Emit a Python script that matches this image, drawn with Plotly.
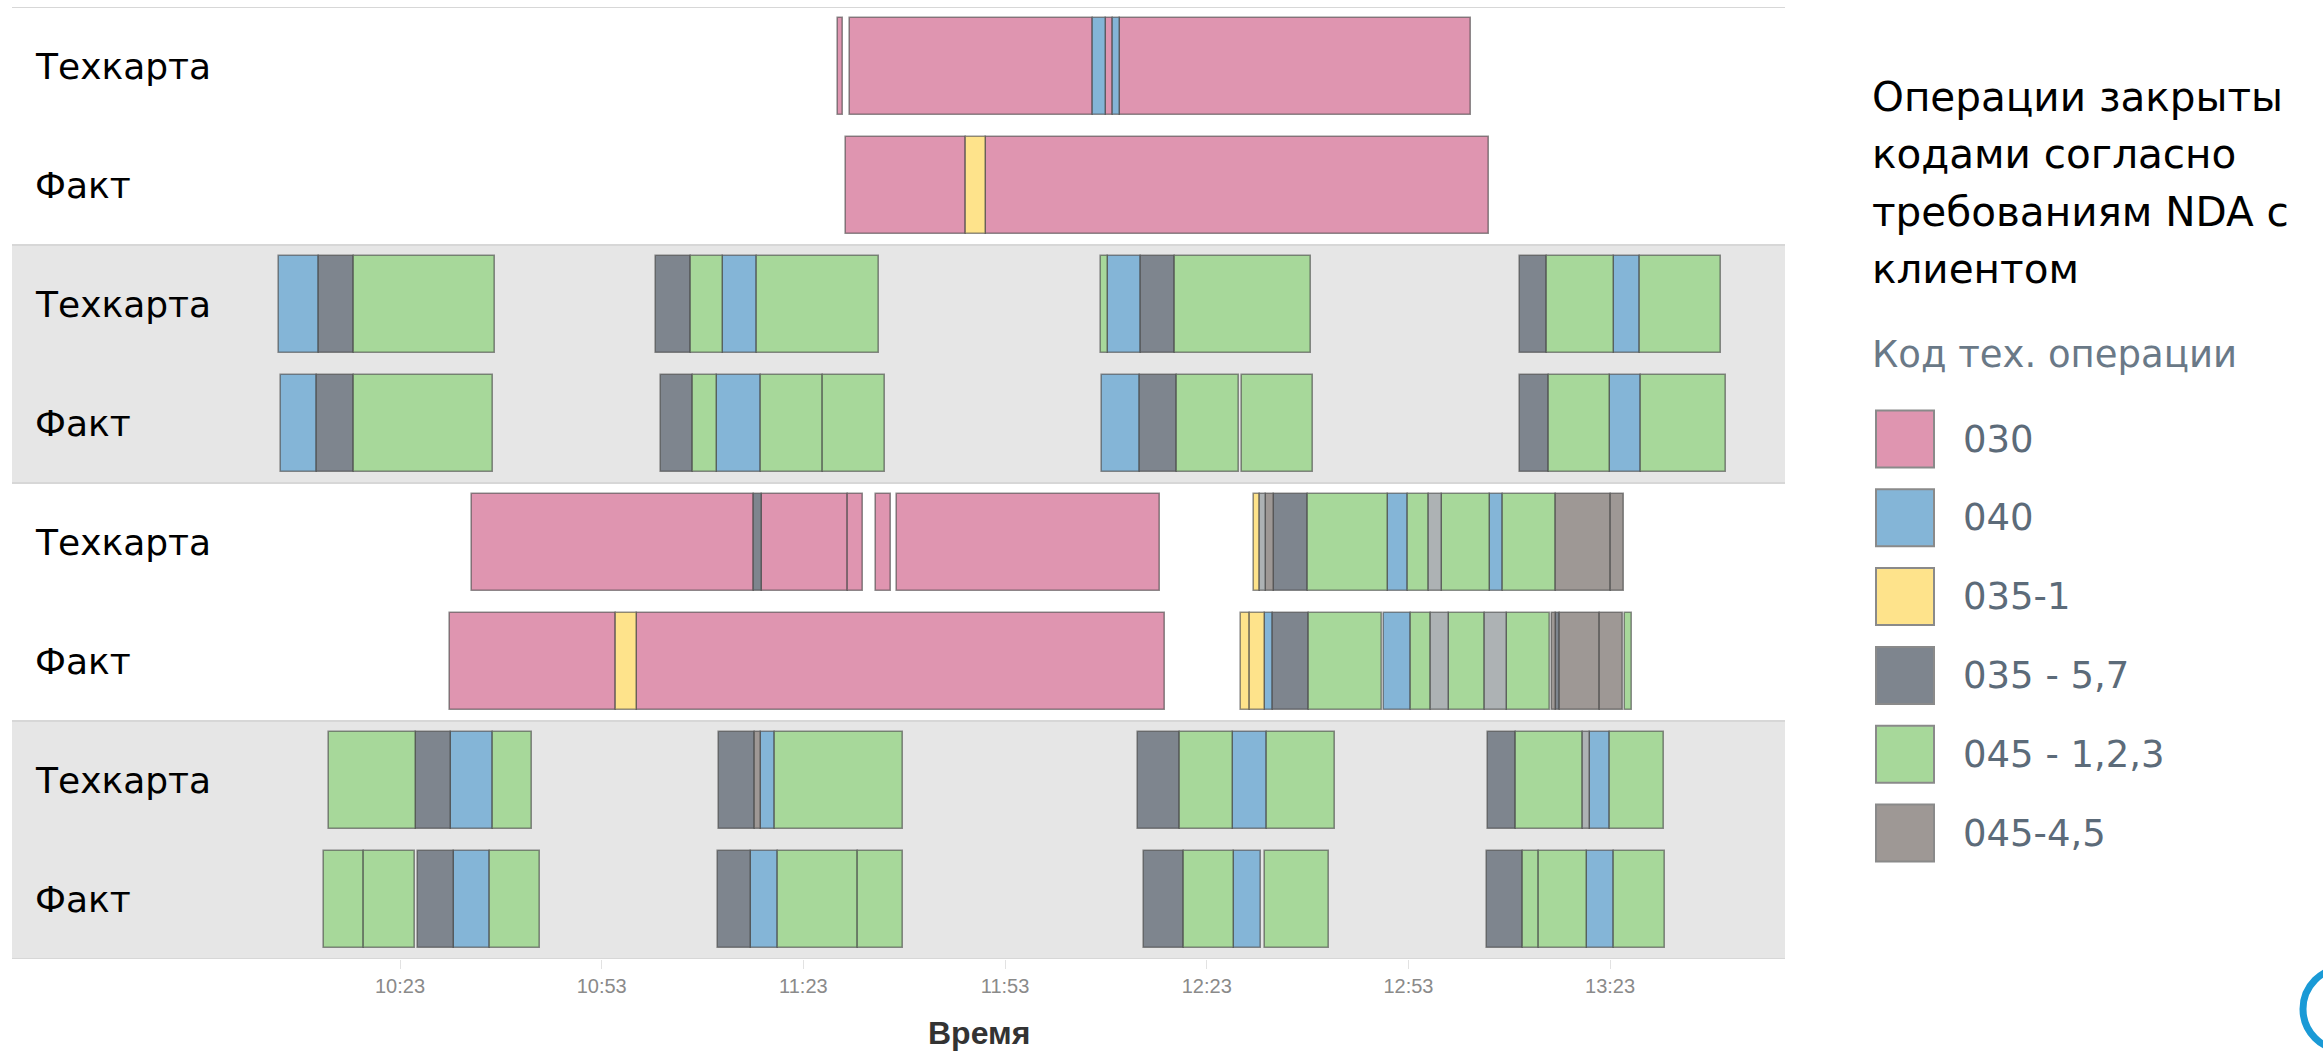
import plotly.graph_objects as go
from datetime import datetime

DAY = "2023-01-01"

ROW_LABELS = ["Техкарта", "Факт", "Техкарта", "Факт",
              "Техкарта", "Факт", "Техкарта", "Факт"]

CODES = ["030", "040", "035-1", "035 - 5,7", "045 - 1,2,3", "045-4,5"]
EXTRA_CODE = "прочее"
CODE_COLORS = {
    "030": "#df95b0",
    "040": "#84b5d7",
    "035-1": "#fee38b",
    "035 - 5,7": "#7e858e",
    "045 - 1,2,3": "#a7d89a",
    "045-4,5": "#9e9895",
    "прочее": "#adb2b4",
}

TICK_LABELS = ["10:23", "10:53", "11:23", "11:53", "12:23", "12:53", "13:23"]
X_RANGE = ["09:25:17", "13:49:01"]

LEGEND_TITLE = ["Операции закрыты", "кодами согласно", "требованиям NDA с", "клиентом"]
LEGEND_SUBTITLE = "Код тех. операции"

# (code, start, end) for each row, top to bottom
ROW_1 = [
    ("030", "11:28:07", "11:28:56"),
    ("030", "11:29:58", "12:06:02"),
    ("040", "12:06:02", "12:08:05"),
    ("030", "12:08:05", "12:09:03"),
    ("040", "12:09:03", "12:10:09"),
    ("030", "12:10:09", "13:02:15"),
]
ROW_2 = [
    ("030", "11:29:21", "11:47:15"),
    ("035-1", "11:47:15", "11:50:12"),
    ("030", "11:50:12", "13:04:59"),
]
ROW_3 = [
    ("040", "10:04:56", "10:10:56"),
    ("035 - 5,7", "10:10:56", "10:16:08"),
    ("045 - 1,2,3", "10:16:08", "10:37:06"),
    ("035 - 5,7", "11:01:08", "11:06:15"),
    ("045 - 1,2,3", "11:06:15", "11:11:03"),
    ("040", "11:11:03", "11:16:10"),
    ("045 - 1,2,3", "11:16:10", "11:34:16"),
    ("045 - 1,2,3", "12:07:20", "12:08:18"),
    ("040", "12:08:18", "12:13:09"),
    ("035 - 5,7", "12:13:09", "12:18:16"),
    ("045 - 1,2,3", "12:18:16", "12:38:33"),
    ("035 - 5,7", "13:09:32", "13:13:37"),
    ("045 - 1,2,3", "13:13:37", "13:23:39"),
    ("040", "13:23:39", "13:27:31"),
    ("045 - 1,2,3", "13:27:31", "13:39:34"),
]
ROW_4 = [
    ("040", "10:05:20", "10:10:36"),
    ("035 - 5,7", "10:10:36", "10:16:11"),
    ("045 - 1,2,3", "10:16:11", "10:36:46"),
    ("035 - 5,7", "11:01:49", "11:06:36"),
    ("045 - 1,2,3", "11:06:36", "11:10:07"),
    ("040", "11:10:07", "11:16:38"),
    ("045 - 1,2,3", "11:16:38", "11:25:52"),
    ("045 - 1,2,3", "11:25:52", "11:35:10"),
    ("040", "12:07:29", "12:13:07"),
    ("035 - 5,7", "12:13:07", "12:18:37"),
    ("045 - 1,2,3", "12:18:37", "12:27:50"),
    ("045 - 1,2,3", "12:28:15", "12:38:46"),
    ("035 - 5,7", "13:09:32", "13:13:56"),
    ("045 - 1,2,3", "13:13:56", "13:22:55"),
    ("040", "13:22:55", "13:27:36"),
    ("045 - 1,2,3", "13:27:36", "13:40:15"),
]
ROW_5 = [
    ("030", "10:33:41", "11:15:41"),
    ("035 - 5,7", "11:15:41", "11:16:51"),
    ("030", "11:16:51", "11:29:41"),
    ("030", "11:29:41", "11:31:52"),
    ("030", "11:33:47", "11:35:59"),
    ("030", "11:36:52", "12:15:59"),
    ("035-1", "12:30:02", "12:30:56"),
    ("прочее", "12:30:56", "12:31:49"),
    ("045-4,5", "12:31:49", "12:33:03"),
    ("035 - 5,7", "12:33:03", "12:38:07"),
    ("045 - 1,2,3", "12:38:07", "12:49:55"),
    ("040", "12:49:55", "12:52:59"),
    ("045 - 1,2,3", "12:52:59", "12:56:04"),
    ("прочее", "12:56:04", "12:57:57"),
    ("045 - 1,2,3", "12:57:57", "13:05:08"),
    ("040", "13:05:08", "13:07:02"),
    ("045 - 1,2,3", "13:07:02", "13:14:57"),
    ("045-4,5", "13:14:57", "13:23:06"),
    ("045-4,5", "13:23:06", "13:25:08"),
]
ROW_6 = [
    ("030", "10:30:24", "10:55:11"),
    ("035-1", "10:55:11", "10:58:16"),
    ("030", "10:58:16", "12:16:50"),
    ("035-1", "12:28:03", "12:29:29"),
    ("035-1", "12:29:29", "12:31:43"),
    ("040", "12:31:43", "12:32:49"),
    ("035 - 5,7", "12:32:49", "12:38:15"),
    ("045 - 1,2,3", "12:38:15", "12:49:02"),
    ("040", "12:49:22", "12:53:21"),
    ("045 - 1,2,3", "12:53:21", "12:56:19"),
    ("прочее", "12:56:19", "12:59:05"),
    ("045 - 1,2,3", "12:59:05", "13:04:24"),
    ("прочее", "13:04:24", "13:07:37"),
    ("045 - 1,2,3", "13:07:37", "13:14:04"),
    ("045-4,5", "13:14:19", "13:15:00"),
    ("035 - 5,7", "13:15:00", "13:15:33"),
    ("045-4,5", "13:15:33", "13:21:30"),
    ("045-4,5", "13:21:30", "13:24:53"),
    ("045 - 1,2,3", "13:25:13", "13:26:13"),
]
ROW_7 = [
    ("045 - 1,2,3", "10:12:26", "10:25:25"),
    ("035 - 5,7", "10:25:25", "10:30:36"),
    ("040", "10:30:36", "10:36:46"),
    ("045 - 1,2,3", "10:36:46", "10:42:34"),
    ("035 - 5,7", "11:10:30", "11:15:49"),
    ("045-4,5", "11:15:49", "11:16:43"),
    ("040", "11:16:43", "11:18:46"),
    ("045 - 1,2,3", "11:18:46", "11:37:49"),
    ("035 - 5,7", "12:12:48", "12:18:57"),
    ("045 - 1,2,3", "12:18:57", "12:26:53"),
    ("040", "12:26:53", "12:31:55"),
    ("045 - 1,2,3", "12:31:55", "12:42:07"),
    ("035 - 5,7", "13:04:51", "13:08:57"),
    ("045 - 1,2,3", "13:08:57", "13:18:59"),
    ("прочее", "13:18:59", "13:20:01"),
    ("040", "13:20:01", "13:22:57"),
    ("045 - 1,2,3", "13:22:57", "13:31:01"),
]
ROW_8 = [
    ("045 - 1,2,3", "10:11:45", "10:17:38"),
    ("045 - 1,2,3", "10:17:38", "10:25:17"),
    ("035 - 5,7", "10:25:37", "10:31:02"),
    ("040", "10:31:02", "10:36:21"),
    ("045 - 1,2,3", "10:36:21", "10:43:51"),
    ("035 - 5,7", "11:10:14", "11:15:16"),
    ("040", "11:15:16", "11:19:15"),
    ("045 - 1,2,3", "11:19:15", "11:31:11"),
    ("045 - 1,2,3", "11:31:11", "11:37:49"),
    ("035 - 5,7", "12:13:38", "12:19:34"),
    ("045 - 1,2,3", "12:19:34", "12:27:05"),
    ("040", "12:27:05", "12:31:03"),
    ("045 - 1,2,3", "12:31:43", "12:41:09"),
    ("035 - 5,7", "13:04:39", "13:10:06"),
    ("045 - 1,2,3", "13:10:06", "13:12:22"),
    ("045 - 1,2,3", "13:12:22", "13:19:32"),
    ("040", "13:19:32", "13:23:38"),
    ("045 - 1,2,3", "13:23:38", "13:31:09"),
]
ROWS = [ROW_1, ROW_2, ROW_3, ROW_4, ROW_5, ROW_6, ROW_7, ROW_8]

# ---- page geometry (pixels) ----
W, H = 2323, 1057
PLOT_L, PLOT_R, PLOT_T, PLOT_B = 12, 1785, 7, 959
FONT = "DejaVu Sans"
SLATE = "#5c6b79"


def ts(hms):
    return f"{DAY} {hms}"


def ms_between(a, b):
    fmt = "%H:%M:%S"
    return (datetime.strptime(b, fmt) - datetime.strptime(a, fmt)).total_seconds() * 1000


def px_x(px):
    return (px - PLOT_L) / (PLOT_R - PLOT_L)


def px_y(py):
    return (PLOT_B - py) / (PLOT_B - PLOT_T)


fig = go.Figure()

for code in CODES + [EXTRA_CODE]:
    ys, bases, lens = [], [], []
    for r, segs in enumerate(ROWS):
        for c, s, e in segs:
            if c == code:
                ys.append(r)
                bases.append(ts(s))
                lens.append(ms_between(s, e))
    fig.add_trace(go.Bar(
        orientation="h", y=ys, x=lens, base=bases, width=0.82, name=code,
        marker=dict(color=CODE_COLORS[code],
                    line=dict(color="rgba(70,70,70,0.6)", width=1.6)),
        showlegend=False,
    ))

shapes = []
# alternating row bands
for y0, y1 in [(1.5, 3.5), (5.5, 7.5)]:
    shapes.append(dict(type="rect", xref="paper", yref="y", x0=0, x1=1, y0=y0, y1=y1,
                       fillcolor="#e6e6e6", line=dict(width=0), layer="below"))
for yb in [-0.5, 1.5, 3.5, 5.5, 7.5]:
    shapes.append(dict(type="line", xref="paper", yref="y", x0=0, x1=1, y0=yb, y1=yb,
                       line=dict(color="#d7d7d7", width=2), layer="below"))

annotations = []
for r, lab in enumerate(ROW_LABELS):
    annotations.append(dict(text=lab, xref="paper", yref="y", x=px_x(33), y=r,
                            xanchor="left", yanchor="middle", showarrow=False,
                            font=dict(family=FONT, size=36, color="#000000")))

# axis title
annotations.append(dict(text="<b>Время</b>", xref="paper", yref="paper",
                        x=px_x(979), y=px_y(1033), xanchor="center", yanchor="middle",
                        showarrow=False,
                        font=dict(family="Liberation Sans", size=32, color="#333333")))

# legend block
for i, line in enumerate(LEGEND_TITLE):
    annotations.append(dict(text=line, xref="paper", yref="paper",
                            x=px_x(1870), y=px_y(97 + i * 57.3), xanchor="left",
                            yanchor="middle", showarrow=False,
                            font=dict(family=FONT, size=40.5, color="#000000")))
annotations.append(dict(text=LEGEND_SUBTITLE, xref="paper", yref="paper",
                        x=px_x(1870), y=px_y(354), xanchor="left", yanchor="middle",
                        showarrow=False, font=dict(family=FONT, size=37, color="#6a7987")))
for i, code in enumerate(CODES):
    cy = 439 + i * 78.8
    shapes.append(dict(type="rect", xref="paper", yref="paper",
                       x0=px_x(1876), x1=px_x(1934), y0=px_y(cy + 28.5), y1=px_y(cy - 28.5),
                       fillcolor=CODE_COLORS[code], line=dict(color="#8a8a8a", width=2)))
    annotations.append(dict(text=code, xref="paper", yref="paper",
                            x=px_x(1961), y=px_y(cy), xanchor="left", yanchor="middle",
                            showarrow=False, font=dict(family=FONT, size=37, color=SLATE)))

# corner logo fragment
shapes.append(dict(type="circle", xref="paper", yref="paper",
                   x0=px_x(2303), x1=px_x(2385), y0=px_y(1050), y1=px_y(968),
                   fillcolor="#ffffff", line=dict(color="#1a9ad6", width=7)))

fig.update_layout(
    width=W, height=H,
    margin=dict(l=PLOT_L, r=W - PLOT_R, t=PLOT_T, b=H - PLOT_B),
    paper_bgcolor="#ffffff", plot_bgcolor="#ffffff",
    barmode="overlay", bargap=0,
    shapes=shapes, annotations=annotations,
    xaxis=dict(
        type="date", range=[ts(X_RANGE[0]), ts(X_RANGE[1])],
        tickvals=[ts(t + ":00") for t in TICK_LABELS], ticktext=TICK_LABELS,
        ticks="outside", ticklen=9, tickcolor="#e2e2e2", tickwidth=1,
        tickfont=dict(family="Liberation Sans", size=20, color="#8a8a8a"),
        showgrid=False, zeroline=False, showline=False, fixedrange=True,
    ),
    yaxis=dict(range=[7.5, -0.5], showticklabels=False, showgrid=False,
               zeroline=False, showline=False, fixedrange=True),
    font=dict(family=FONT),
)

fig.write_html("out.html")
